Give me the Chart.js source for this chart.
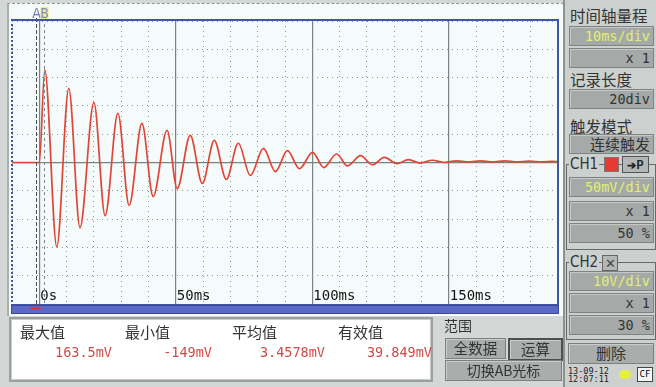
<!DOCTYPE html>
<html>
<head>
<meta charset="utf-8">
<script src="https://cdn.jsdelivr.net/npm/chart.js@4/dist/chart.umd.min.js"></script>
<style>
  html,body{margin:0;padding:0;}
  body{width:656px;height:387px;position:relative;overflow:hidden;background:#d3d8d7;font-family:"Noto Sans CJK SC","Noto Sans",sans-serif;}
  .abs{position:absolute;}
  #screen{left:7px;top:3px;width:555px;height:312px;background:#f4fbfa;border-top:1px dashed #8e9494;border-left:2px solid #a9aeae;}
  #cv{position:absolute;left:12px;top:4px;width:546px;height:300px;}
  #frame{left:11px;top:19px;width:544px;height:283px;border-top:2px solid #3d57a6;border-right:2px solid #3d57a6;border-left:2px dotted #3d57a6;border-bottom:2px solid #3d57a6;pointer-events:none;}
  #bar{left:11px;top:305px;width:546px;height:7px;background:#5d69c6;border:1px solid #3c4796;}
  #mark{left:30px;top:304px;font-size:6px;color:#e03030;font-family:"DejaVu Sans Mono";letter-spacing:-1px;}
  #meas{left:9px;top:317px;width:420px;height:61px;background:#fff;border:2px solid #9aa09f;box-shadow:inset 0 0 0 1px #c8cccb;}
  .lbl{font-size:15px;color:#333;line-height:15px;}
  .val{font-family:"DejaVu Sans Mono",monospace;font-size:13.5px;color:#d24a45;line-height:14px;text-align:right;}
  .btn{background:#a9aeac;border:1px solid #7b807f;box-shadow:inset 1px 1px 0 #c9cdcc;color:#333;font-size:14.5px;line-height:18px;text-align:center;}
  #rp{left:563px;top:0;width:93px;height:387px;background:#ccd1d0;border-left:2px solid #8d9291;}
  .rl{font-size:15.5px;color:#333;line-height:16px;white-space:nowrap;}
  .box{left:569px;width:83px;height:18px;background:#a5aaa8;border:1px solid #7e8382;box-shadow:inset 1px 1px 0 #c4c8c7;font-family:"DejaVu Sans Mono",monospace;font-size:13.5px;line-height:18px;text-align:right;color:#333;padding-right:0;box-sizing:content-box;}
  .box span{padding-right:3px;}
  .yel{color:#e4ef6e;}
  .grp{border:1px solid #666b6a;}
  .tiny{font-family:"DejaVu Sans Mono",monospace;font-size:8.5px;line-height:8px;color:#222;}
</style>
</head>
<body>
<div id="screen" class="abs"></div>
<canvas id="cv" width="546" height="300"></canvas>
<div id="frame" class="abs"></div>
<div id="bar" class="abs"></div>
<div id="mark" class="abs">▪▪▪▪</div>

<div id="meas" class="abs"></div>
<div class="abs lbl" style="left:20px;top:324px;">最大值</div>
<div class="abs lbl" style="left:125px;top:324px;">最小值</div>
<div class="abs lbl" style="left:232px;top:324px;">平均值</div>
<div class="abs lbl" style="left:338px;top:324px;">有效值</div>
<div class="abs val" style="left:40px;width:72px;top:345px;">163.5mV</div>
<div class="abs val" style="left:140px;width:72px;top:345px;">-149mV</div>
<div class="abs val" style="left:230px;width:95px;top:345px;">3.4578mV</div>
<div class="abs val" style="left:335px;width:97px;top:345px;">39.849mV</div>

<div class="abs lbl" style="left:444px;top:318px;font-size:14px;">范围</div>
<div class="abs btn" style="left:445px;top:338px;width:59px;height:19px;">全数据</div>
<div class="abs btn" style="left:508px;top:338px;width:51px;height:19px;border:2px solid #4b504f;line-height:17px;">运算</div>
<div class="abs btn" style="left:445px;top:360px;width:115px;height:19px;font-size:14px;">切换AB光标</div>

<div id="rp" class="abs"></div>
<div class="abs rl" style="left:570px;top:7px;">时间轴量程</div>
<div class="abs box yel" style="top:26px;"><span>10ms/div</span></div>
<div class="abs box" style="top:48px;"><span>x 1</span></div>
<div class="abs rl" style="left:570px;top:71px;">记录长度</div>
<div class="abs box" style="top:89px;"><span>20div</span></div>
<div class="abs rl" style="left:570px;top:118px;">触发模式</div>
<div class="abs box" style="top:134px;font-family:'Noto Sans CJK SC';font-size:15px;"><span>连续触发</span></div>

<div class="abs grp" style="left:566px;top:164px;width:88px;height:84px;"></div>
<div class="abs rl" style="left:569px;top:156px;background:#ccd1d0;padding:0 1px;font-family:'DejaVu Sans Condensed';font-size:15px;">CH1</div>
<div class="abs" style="left:604px;top:157px;width:13px;height:13px;background:#e83a35;border:1px solid #777;"></div>
<div class="abs" style="left:622px;top:156px;width:25px;height:15px;background:#b3b8b6;border:1px solid #555;font-size:11px;line-height:15px;text-align:center;color:#222;font-weight:bold;">➔P</div>
<div class="abs box yel" style="top:177px;"><span>50mV/div</span></div>
<div class="abs box" style="top:201px;"><span>x 1</span></div>
<div class="abs box" style="top:223px;"><span>50 %</span></div>

<div class="abs grp" style="left:566px;top:262px;width:88px;height:76px;"></div>
<div class="abs rl" style="left:569px;top:254px;background:#ccd1d0;padding:0 1px;font-family:'DejaVu Sans Condensed';font-size:15px;">CH2</div>
<div class="abs" style="left:602px;top:255px;width:14px;height:14px;background:#b3b8b6;border:1px solid #666;font-size:13px;line-height:14px;text-align:center;color:#444;">✕</div>
<div class="abs box yel" style="top:271px;"><span>10V/div</span></div>
<div class="abs box" style="top:293px;"><span>x 1</span></div>
<div class="abs box" style="top:315px;"><span>30 %</span></div>

<div class="abs btn" style="left:568px;top:343px;width:84px;height:19px;font-size:15px;">删除</div>
<div class="abs tiny" style="left:568px;top:367px;">13-09-12</div>
<div class="abs tiny" style="left:568px;top:375px;">12:07:11</div>
<div class="abs" style="left:619px;top:370px;width:12px;height:9px;background:#e8ee40;border-radius:5px;"></div>
<div class="abs" style="left:637px;top:367px;width:14px;height:13px;background:#f4f6f6;border:1px solid #444;font-family:'DejaVu Sans Mono';font-size:9px;line-height:13px;text-align:center;">CF</div>

<script>
// ---- data ----
const timesMs = [-10, 0, 2.0, 6.4, 10.8, 14.9, 20.0, 24.1, 28.8, 32.9, 37.6, 41.7, 46.8, 50.5, 55.3, 59.7, 64.1, 68.5, 72.9, 77.3, 82.1, 86.5, 90.9, 95.3, 100.1, 104.2, 108.9, 112.9, 117.7, 122.0, 126.4, 131.0, 135.2, 139.6, 144.0, 148.4, 152.8, 157.2, 161.6, 166.0, 170.5, 175.0, 179.4, 184.0, 188.0, 190];
const valuesMv = [0, 0, 163.5, -149, 131, -115, 106, -94, 87, -76, 69, -60, 57, -46, 48, -37, 39, -30, 34, -23, 25, -16, 21, -11, 18, -9, 15, -6, 12, -4, 9, -2, 5, -1, 4, 0, 3, 1, 3, 1, 3, 1, 2.5, 1, 2, 1.5];
const xTickValues = [0, 50, 100, 150];
const xTickLabels = ['0s', '50ms', '100ms', '150ms'];
const yMajorValues = [0];
const cursorTimes = [-1.3, 1.8];
const cursorNames = ['A', 'B'];

const points = timesMs.map((t, i) => ({x: t, y: valuesMv[i]}));

const overlay = {
  id: 'overlay',
  afterDatasetsDraw(chart) {
    const {ctx, chartArea, scales} = chart;
    const xs = scales.x;
    ctx.save();
    // tick labels inside plot
    ctx.font = '14px "DejaVu Sans Mono", monospace';
    ctx.fillStyle = '#151515';
    ctx.textBaseline = 'middle';
    ctx.textAlign = 'left';
    xTickValues.forEach((v, i) => {
      ctx.fillText(xTickLabels[i], xs.getPixelForValue(v) + 1, chartArea.bottom - 8);
    });
    // cursors
    cursorTimes.forEach((t, i) => {
      const px = Math.round(xs.getPixelForValue(t)) + 0.5;
      ctx.beginPath();
      ctx.setLineDash(i === 0 ? [4, 2] : [3, 3]);
      ctx.strokeStyle = i === 0 ? '#4a4f55' : '#7d8590';
      ctx.lineWidth = 1;
      ctx.moveTo(px, 14);
      ctx.lineTo(px, chartArea.bottom);
      ctx.stroke();
      ctx.setLineDash([]);
      ctx.font = '14px "DejaVu Sans Condensed", sans-serif';
      ctx.textAlign = 'center';
      if (i === 1) {
        ctx.fillStyle = '#eef27a';
        ctx.fillRect(px - 4, 3, 8, 13);
      }
      ctx.fillStyle = i === 0 ? '#6c78b8' : '#7f8cc8';
      ctx.fillText(cursorNames[i], px, 10);
    });
    ctx.restore();
  }
};

new Chart(document.getElementById('cv'), {
  type: 'line',
  data: {
    datasets: [{
      data: points,
      borderColor: '#df4638',
      borderWidth: 1.7,
      pointRadius: 0,
      cubicInterpolationMode: 'monotone',
      fill: false
    }]
  },
  options: {
    responsive: false,
    animation: false,
    events: [],
    layout: {padding: {top: 17, left: 0, right: 0, bottom: 0}},
    plugins: {legend: {display: false}, tooltip: {enabled: false}},
    scales: {
      x: {
        type: 'linear', min: -10, max: 190,
        ticks: {display: false, stepSize: 10},
        grid: {color: '#8c9898', lineWidth: 1, drawTicks: false},
        border: {display: false, dash: [1, 4]},
        afterFit: s => { s.height = 0; }
      },
      x2: {
        type: 'linear', position: 'bottom', min: -10, max: 190,
        ticks: {display: false},
        afterBuildTicks: s => { s.ticks = xTickValues.map(v => ({value: v})); },
        grid: {color: '#788383', lineWidth: 1.2, drawTicks: false},
        border: {display: false},
        afterFit: s => { s.height = 0; }
      },
      y: {
        type: 'linear', min: -250, max: 250,
        ticks: {display: false, stepSize: 50},
        grid: {color: '#8c9898', lineWidth: 1, drawTicks: false},
        border: {display: false, dash: [1, 4]},
        afterFit: s => { s.width = 0; }
      },
      y2: {
        type: 'linear', position: 'left', min: -250, max: 250,
        ticks: {display: false},
        afterBuildTicks: s => { s.ticks = yMajorValues.map(v => ({value: v})); },
        grid: {color: '#788383', lineWidth: 1.2, drawTicks: false},
        border: {display: false},
        afterFit: s => { s.width = 0; }
      }
    }
  },
  plugins: [overlay]
});
</script>
</body>
</html>
